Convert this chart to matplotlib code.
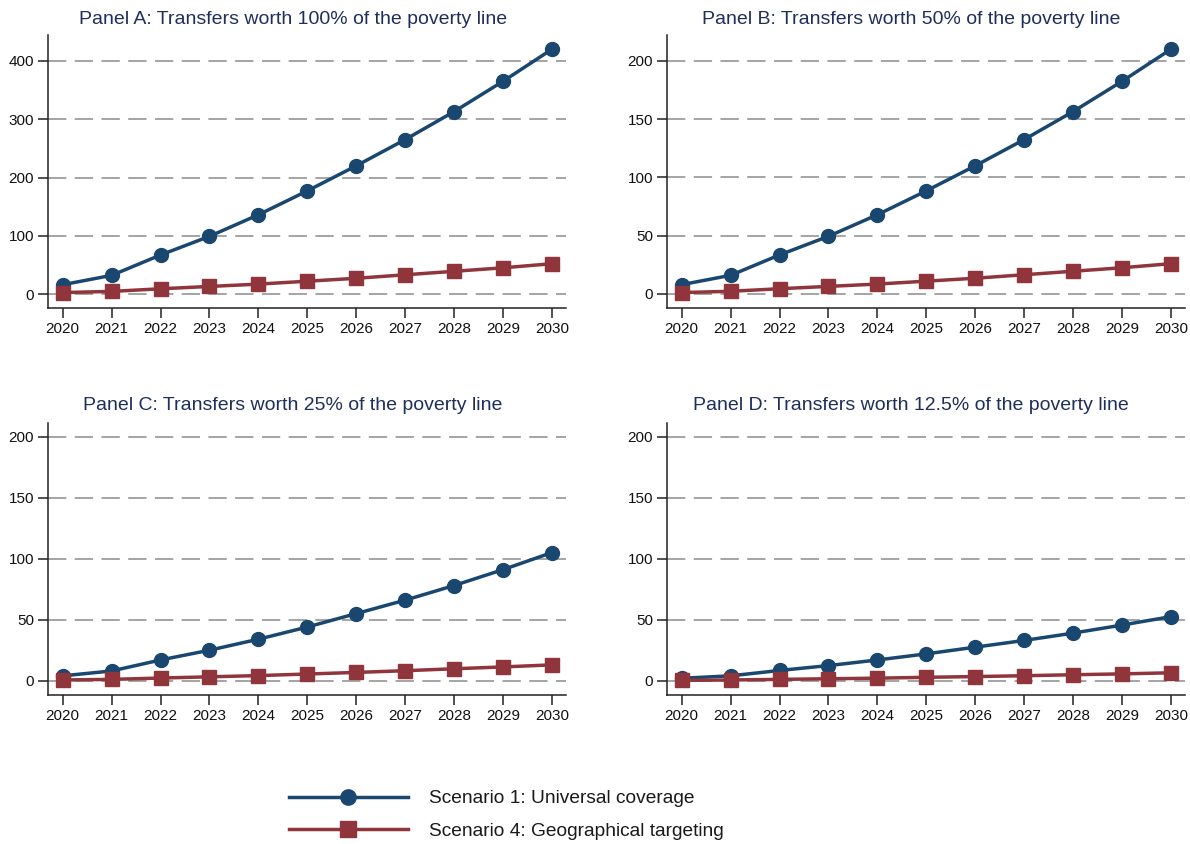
import matplotlib
matplotlib.use("Agg")
import matplotlib.pyplot as plt
from matplotlib.lines import Line2D

plt.rcParams['font.family'] = ['Liberation Sans', 'DejaVu Sans']

# Years on the x axis
years = [2020, 2021, 2022, 2023, 2024, 2025, 2026, 2027, 2028, 2029, 2030]

# Scenario 1: universal coverage
universal_100 = [16, 32, 67, 99, 136, 177, 220, 265, 313, 365, 420]
universal_50 = [8, 16, 33.5, 49.5, 68, 88.5, 110, 132.5, 156.5, 182.5, 210]
universal_25 = [4, 8, 17, 25, 34, 44, 55, 66, 78, 91, 105]
universal_125 = [2, 4, 8.4, 12.4, 17, 22, 27.5, 33, 39, 45.6, 52.5]

# Scenario 4: geographical targeting
geo_100 = [2.5, 4.5, 9, 13, 17, 22, 27, 33, 39, 45, 52]
geo_50 = [1.2, 2.3, 4.5, 6.5, 8.5, 11, 13.5, 16.5, 19.5, 22.5, 26]
geo_25 = [0.6, 1.1, 2.2, 3.2, 4.2, 5.5, 6.8, 8.2, 9.8, 11.3, 13]
geo_125 = [0.3, 0.6, 1.1, 1.6, 2.1, 2.8, 3.4, 4.1, 4.9, 5.6, 6.5]

titles = [
    "Panel A: Transfers worth 100% of the poverty line",
    "Panel B: Transfers worth 50% of the poverty line",
    "Panel C: Transfers worth 25% of the poverty line",
    "Panel D: Transfers worth 12.5% of the poverty line",
]
yticks_list = [
    [0, 100, 200, 300, 400],
    [0, 50, 100, 150, 200],
    [0, 50, 100, 150, 200],
    [0, 50, 100, 150, 200],
]
ylims = [(-24.5, 444.6), (-12.3, 222.3), (-11.7, 211.2), (-11.7, 211.2)]
legend_labels = ["Scenario 1: Universal coverage", "Scenario 4: Geographical targeting"]

BLUE = "#1a476f"
RED = "#90353b"
TITLE_COLOR = "#1f2f5c"

W, H = 1190, 844
fig = plt.figure(figsize=(W / 100, H / 100), dpi=100)

# axes boxes in pixels: left, top, right, bottom
boxes = [
    (48, 35, 566, 308.3),
    (667, 35, 1185, 308.3),
    (48, 423, 566, 695),
    (667, 423, 1185, 695),
]
title_pos = [(293, 19), (911, 19), (293, 406), (911, 406)]
series = [
    (universal_100, geo_100),
    (universal_50, geo_50),
    (universal_25, geo_25),
    (universal_125, geo_125),
]

for i, (l, t, r, b) in enumerate(boxes):
    ax = fig.add_axes([l / W, 1 - b / H, (r - l) / W, (b - t) / H])
    uni, geo = series[i]
    ax.plot(years, uni, color=BLUE, lw=2.5, marker='o', markersize=10, zorder=4)
    ax.plot(years, geo, color=RED, lw=2.5, marker='s', markersize=10, zorder=5)

    ax.set_xlim(2019.70, 2030.29)
    ax.set_ylim(*ylims[i])
    ax.set_xticks(years)
    ax.set_yticks(yticks_list[i])
    ax.yaxis.grid(True, color='#8c8c8c', lw=1.1, linestyle=(0, (12, 5.5)))
    ax.set_axisbelow(True)

    for side in ['top', 'right']:
        ax.spines[side].set_visible(False)
    for side in ['left', 'bottom']:
        ax.spines[side].set_linewidth(1.1)
        ax.spines[side].set_color('#222222')
    ax.tick_params(axis='both', length=7, width=1.1, color='#222222',
                   labelsize=11, labelcolor='#111111')
    ax.tick_params(axis='y', pad=3)
    ax.tick_params(axis='x', pad=3)

    tx, ty = title_pos[i]
    fig.text(tx / W, 1 - ty / H, titles[i], ha='center', va='center',
             fontsize=14, color=TITLE_COLOR)

handles = [
    Line2D([], [], color=BLUE, lw=2.5, marker='o', markersize=11),
    Line2D([], [], color=RED, lw=2.5, marker='s', markersize=11),
]
fig.legend(handles, legend_labels, loc='center left',
           bbox_to_anchor=(289 / W, 1 - 815 / H), frameon=False,
           fontsize=13.8, handlelength=6.2, handletextpad=1.1,
           labelspacing=0.8, borderpad=0, borderaxespad=0,
           labelcolor='#1a1a1a')

fig.savefig("out.png", dpi=100)
